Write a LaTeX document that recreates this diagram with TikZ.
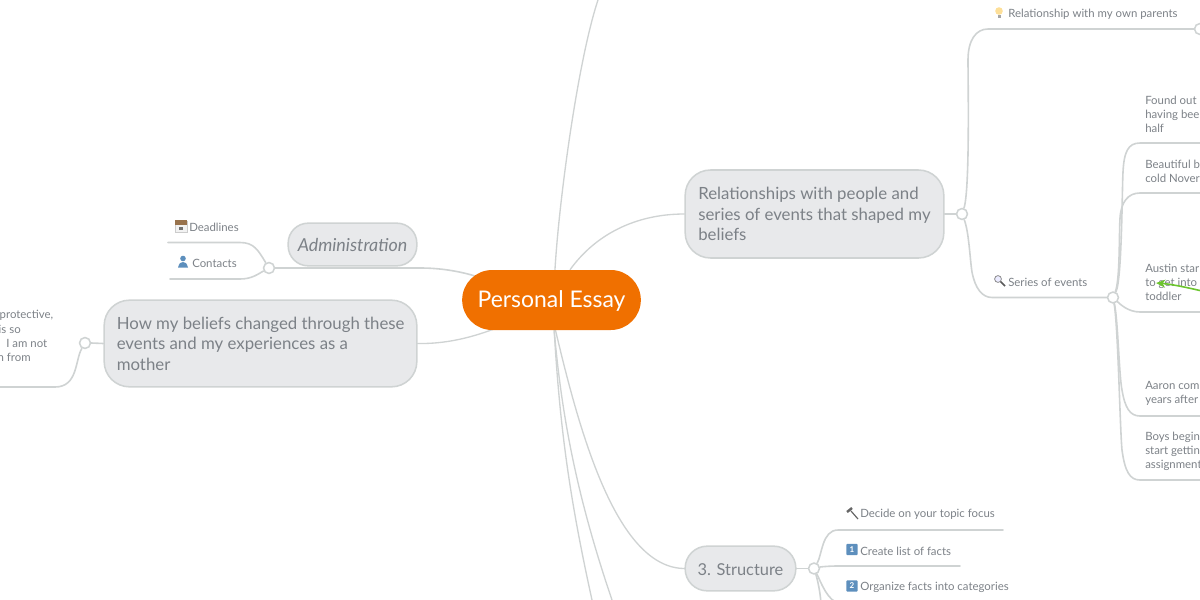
\documentclass[tikz,border=0pt]{standalone}
\usepackage{fontspec}
\setmainfont{Lato}
\usetikzlibrary{backgrounds,arrows.meta}
\definecolor{linec}{HTML}{CFD3D3}
\definecolor{textc}{HTML}{7C8187}
\definecolor{fillc}{HTML}{E8E9EB}
\definecolor{orangec}{HTML}{F07000}
\definecolor{greenc}{HTML}{6CC52E}
\definecolor{bluec}{HTML}{5D8FBD}
\tikzset{
  x=0.75pt,y=-0.75pt,
  conn/.style={draw=linec,line width=1.2pt,line cap=round},
  thin conn/.style={draw=linec,line width=1pt,line cap=round},
  big/.style={draw=linec,fill=fillc,line width=1.15pt,inner sep=0pt,text=textc},
  bigtext/.style={font=\fontsize{12.6pt}{15.4pt}\selectfont,text=textc,align=left,anchor=west,inner sep=0pt},
  small/.style={font=\fontsize{8.55pt}{10.5pt}\selectfont,text=textc,align=left,anchor=west,inner sep=0pt},
  knob/.style={circle,draw=linec,fill=white,line width=1.15pt,minimum size=8.2pt,inner sep=0pt},
  keycap/.style={fill=bluec,rounded corners=0.8pt,minimum size=8.5pt,inner sep=0pt,text=white,font=\fontsize{6pt}{6pt}\selectfont\bfseries},
}
\begin{document}
\begin{tikzpicture}
\useasboundingbox (0,0) rectangle (1200,600);
% central and main nodes
\node[fill=orangec,rounded corners=22.5pt,minimum width=134pt,minimum height=45pt,inner sep=0pt] (center) at (551.5,300) {};
\node[text=white,font=\fontsize{17.2pt}{20pt}\selectfont,inner sep=0pt] (centert) at (551.5,301.5) {Personal Essay};
\node[big,rounded corners=15pt,minimum width=96.5pt,minimum height=32pt,font=\fontsize{13.4pt}{15pt}\selectfont\itshape] (admin) at (352.5,244.5) {Administration};
\node[big,rounded corners=19pt,minimum width=234.5pt,minimum height=65pt] (how) at (260.5,343.5) {};
\node[bigtext] (howt) at (116.5,343.5) {How my beliefs changed through these\\events and my experiences as a\\mother};
\node[big,rounded corners=19pt,minimum width=194pt,minimum height=66pt] (rel) at (814.5,214) {};
\node[bigtext] (relt) at (698,214) {Relationships with people and\\series of events that shaped my\\beliefs};
\node[big,rounded corners=16.5pt,minimum width=83pt,minimum height=33.5pt] (struct) at (740.5,568.5) {};
\node[font=\fontsize{12.3pt}{15pt}\selectfont,text=textc,inner sep=0pt] (structt) at (740.5,569.5) {3. Structure};
% knobs
\node[knob] (kadmin) at (269,268) {};
\node[knob] (khow) at (85,343) {};
\node[knob] (krel) at (962,214) {};
\node[knob] (kseries) at (1113,297.5) {};
\node[knob] (kstruct) at (814,568.5) {};
\node[knob] (kparents) at (1200,29) {};
% free ends
\coordinate (topend) at (598,0);
\coordinate (botA) at (592,600);
\coordinate (botB) at (612,600);
\coordinate (dl) at (168,242.5);
\coordinate (cl) at (170,279);
\coordinate (hl) at (-2,387);
\coordinate (e1) at (1202,143);
\coordinate (e2) at (1202,193);
\coordinate (e3) at (1202,312);
\coordinate (e4) at (1202,416);
\coordinate (e5) at (1202,480);
\coordinate (s1) at (1003,530);
\coordinate (s2) at (960,566);
\coordinate (s3) at (1020,603);
\coordinate (s4) at (821,603);
\coordinate (arrowfrom) at (1202,291);
\coordinate (arrowto) at (1156,283);
% small texts
\node[small] (t1) at (189,227) {Deadlines};
\node[small] (t2) at (192,263) {Contacts};
\node[small,anchor=east] (l1) at (53.5,315) {protective,};
\node[small,anchor=east] (l2) at (21,329.5) {is so};
\node[small,anchor=east] (l3) at (47.5,343.5) {.\ \ I am not};
\node[small,anchor=east] (l4) at (31,357.5) {n from};
\node[small] (t3) at (1008,14.5) {Relationship with my own parents};
\node[small] (t4) at (1008,282.5) {Series of events};
\node[small] (f1) at (1145,114) {Found out\\having bee\\half};
\node[small] (f2) at (1145,171) {Beautiful ba\\cold Nover};
\node[small] (f3) at (1145,282) {Austin star\\to get into\\toddler};
\node[small] (f4) at (1145,393.5) {Aaron com\\years after};
\node[small] (f5) at (1145,451) {Boys begin\\start gettin\\assignment};
\node[small] (t5) at (860,514.5) {Decide on your topic focus};
\node[small] (t6) at (860,551) {Create list of facts};
\node[small] (t7) at (860,587.5) {Organize facts into categories};
% icons
\node[keycap] (one) at (852,549.5) {1};
\node[keycap] (two) at (852,586) {2};
% calendar
\fill[black!5,draw=black!20,line width=0.3pt] (175,221) rectangle (187,232);
\fill[brown!70!black!85] (175,220) rectangle (187,225);
\fill[black!55] (179,227) rectangle (183,230);
% person
\fill[bluec] (183,258.5) circle (2.8);
\fill[bluec] (178,267.5) .. controls (179,263) and (181,262) .. (183,262) .. controls (185,262) and (187,263) .. (188,267.5) -- cycle;
% bulb
\fill[yellow!40!orange!38] (999,11) circle (3.8);
\fill[black!35] (997.5,15) rectangle (1000.5,18);
% magnifier
\draw[black!45,line width=0.6pt,fill=blue!8] (998,279) circle (3.4);
\draw[black!65,line width=1.2pt] (1000.5,281.5) -- (1005,286);
% hammer
\draw[black!60,line width=0.9pt] (851,511) -- (858,519);
\draw[black!60,line width=1.8pt] (847,512) -- (852,508);
% connectors
\begin{pgfonlayer}{background}
\draw[thin conn] ([xshift=2.6pt]center.north) .. controls (559,200) and (578,60) .. (topend);
\draw[thin conn] ([xshift=13.9pt]center.north) .. controls (595,235) and (635,214) .. (rel.west);
\draw[conn] (kadmin.east) -- (420,268) .. controls (440,268) and (458,271) .. ([xshift=-58pt,yshift=-4.5pt]center.north);
\draw[thin conn] (how.east) .. controls (445,344) and (470,338) .. (494,329);
\draw[thin conn] ([xshift=3pt]center.south) .. controls (578,425) and (615,568) .. (struct.west);
\draw[thin conn] ([xshift=2pt]center.south) .. controls (562,420) and (578,500) .. (botB);
\draw[thin conn] ([xshift=2pt]center.south) .. controls (560,430) and (570,500) .. (botA);
\draw[conn] (khow.east) -- (how.west);
\draw[conn] (rel.east) -- (krel.west);
\draw[conn] (struct.east) -- (kstruct.west);
\draw[conn] (kadmin) .. controls (258,250) and (254,242.5) .. (240,242.5) -- (dl);
\draw[conn] (kadmin) .. controls (258,274) and (252,279) .. (240,279) -- (cl);
\draw[conn] (khow) .. controls (75,360) and (78,387) .. (55,387) -- (hl);
\draw[conn] (krel) .. controls (970,190) and (968,80) .. (968,60) .. controls (968,40) and (976,29) .. (988,29) -- (kparents);
\draw[conn] (krel) .. controls (969,232) and (970,260) .. (972,272) .. controls (975,288) and (982,297.5) .. (992,297.5) -- (kseries);
\draw[conn] (kseries) .. controls (1122,280) and (1122,190) .. (1123,172) .. controls (1124,152) and (1128,143) .. (1140,143) -- (e1);
\draw[conn] (kseries) .. controls (1120,280) and (1119,235) .. (1120,218) .. controls (1121,202) and (1128,193) .. (1140,193) -- (e2);
\draw[conn] (kseries) .. controls (1120,304) and (1128,312) .. (1140,312) -- (e3);
\draw[conn] (kseries) .. controls (1118,320) and (1119,375) .. (1122,390) .. controls (1125,408) and (1130,416) .. (1140,416) -- (e4);
\draw[conn] (kseries) .. controls (1118,325) and (1120,430) .. (1122,450) .. controls (1125,472) and (1130,480) .. (1140,480) -- (e5);
\draw[conn] (kstruct) .. controls (822,555) and (822,530) .. (838,530) -- (s1);
\draw[conn] (kstruct) .. controls (820,567) and (828,566) .. (838,566) -- (s2);
\draw[conn] (kstruct) .. controls (820,580) and (828,603) .. (840,603) -- (s3);
\draw[conn] (kstruct) .. controls (817,578) and (820,590) .. (s4);
\end{pgfonlayer}
\draw[greenc,line width=1.2pt,-{Stealth[length=7pt,width=6pt]}] (arrowfrom) .. controls (1185,287) and (1170,284) .. (arrowto);
\end{tikzpicture}
\end{document}
